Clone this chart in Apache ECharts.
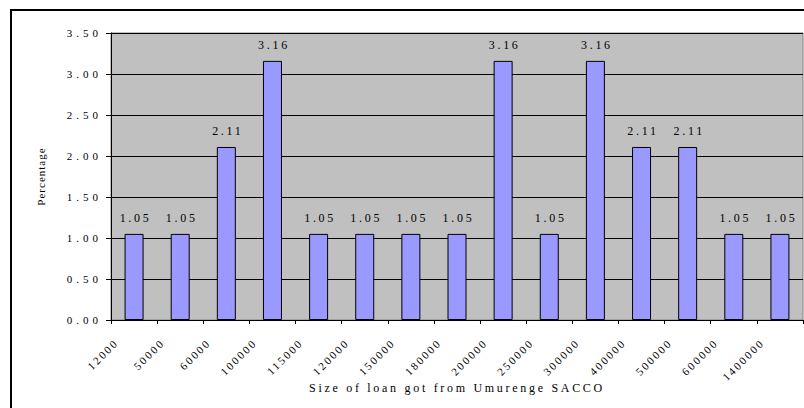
<!DOCTYPE html>
<html>
<head>
<meta charset="utf-8">
<script src="https://cdn.jsdelivr.net/npm/echarts@6/dist/echarts.min.js"></script>
<style>
  html, body { margin: 0; padding: 0; background: #fff; }
  #chart { width: 804px; height: 408px; }
</style>
</head>
<body>
<div id="chart"></div>
<script>
// Loan sizes (RWF) received from Umurenge SACCO and share of respondents (%)
const loanSizes = ['12000', '50000', '60000', '100000', '115000', '120000', '150000',
  '180000', '200000', '250000', '300000', '400000', '500000', '600000', '1400000'];
const percentages = [1.05, 1.05, 2.11, 3.16, 1.05, 1.05, 1.05, 1.05, 3.16, 1.05, 3.16, 2.11, 2.11, 1.05, 1.05];
const yTicks = { min: 0, max: 3.5, step: 0.5 };

const SERIF = 'Liberation Serif';

const dom = document.getElementById('chart');
const chart = echarts.init(dom, null, { renderer: 'svg' });

chart.setOption({
  animation: false,
  backgroundColor: '#ffffff',
  textStyle: { fontFamily: SERIF },
  graphic: [{
    type: 'rect',
    shape: { x: 11, y: 10, width: 900, height: 500 },
    style: { fill: 'none', stroke: '#000', lineWidth: 2 },
    silent: true,
    z: -10
  }],
  grid: {
    left: 111, top: 33, width: 692, height: 287,
    show: true, backgroundColor: '#c0c0c0', borderColor: '#808080', borderWidth: 1
  },
  xAxis: {
    type: 'category',
    data: loanSizes,
    boundaryGap: true,
    name: 'Size of loan got from Umurenge SACCO',
    nameLocation: 'middle',
    nameGap: 62,
    nameTextStyle: { fontFamily: SERIF, fontSize: 12, color: '#000' },
    axisLine: { show: true, lineStyle: { color: '#000', width: 1 } },
    axisTick: { show: true, alignWithLabel: false, length: 4, lineStyle: { color: '#000' } },
    axisLabel: {
      interval: 0, rotate: 45, margin: 3,
      fontFamily: SERIF, fontSize: 11, color: '#000',
      formatter: v => '{t|' + v + '}',
      rich: {
        t: { padding: [0, 25, 0, 0], fontFamily: SERIF, fontSize: 11, color: '#000' }
      }
    },
    splitLine: { show: false }
  },
  yAxis: {
    type: 'value',
    min: yTicks.min, max: yTicks.max, interval: yTicks.step,
    name: 'Percentage',
    nameLocation: 'middle',
    nameRotate: 90,
    nameGap: 65,
    nameTextStyle: { fontFamily: SERIF, fontSize: 11, color: '#000' },
    axisLine: { show: true, lineStyle: { color: '#000', width: 1 } },
    axisTick: { show: true, inside: false, length: 5, lineStyle: { color: '#000' } },
    axisLabel: {
      margin: 9, fontFamily: SERIF, fontSize: 11, color: '#000',
      formatter: v => v.toFixed(2)
    },
    splitLine: { show: true, lineStyle: { color: '#000', width: 1 } }
  },
  series: [{
    type: 'bar',
    data: percentages,
    barWidth: 19,
    itemStyle: { color: '#9999ff', borderColor: '#000', borderWidth: 1 },
    label: {
      show: true, position: 'top', distance: 10, offset: [1.5, 0],
      fontFamily: SERIF, fontSize: 12, color: '#000',
      formatter: p => p.value.toFixed(2)
    }
  }]
});

// Spread out the letters of every label a little
function spaceLetters() {
  dom.querySelectorAll('svg text').forEach(t => {
    const tl = t.transform && t.transform.baseVal && t.transform.baseVal.consolidate();
    const rotated = tl && Math.abs(tl.matrix.b) > 1e-3;
    let spacing;
    if (rotated) {
      spacing = t.textContent === 'Percentage' ? '1px' : '2.2px';
    } else if (t.getAttribute('text-anchor') === 'end') {
      spacing = '4px';
    } else {
      spacing = '2.7px';
    }
    t.style.letterSpacing = spacing;
  });
}
chart.on('finished', spaceLetters);
spaceLetters();
</script>
</body>
</html>
